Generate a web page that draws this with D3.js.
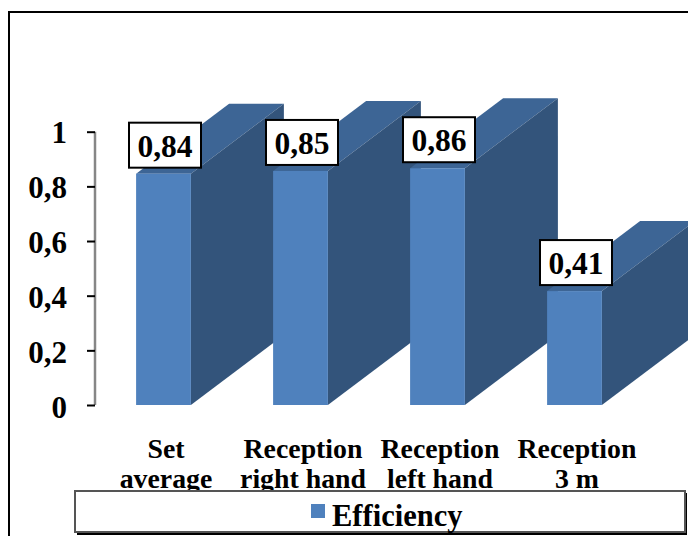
<!DOCTYPE html>
<html>
<head>
<meta charset="utf-8">
<script src="https://cdn.jsdelivr.net/npm/d3@7"></script>
<style>
  html, body { margin: 0; padding: 0; background: #fff; overflow: hidden; }
  svg { display: block; }
  text { font-family: "Liberation Serif", serif; font-weight: bold; fill: #000; }
</style>
</head>
<body>
<svg id="chart"></svg>
<script>
const categories = [['Set', 'average'], ['Reception', 'right hand'], ['Reception', 'left hand'], ['Reception', '3 m']];
const efficiency = [0.84, 0.85, 0.86, 0.41];
const valueLabels = ['0,84', '0,85', '0,86', '0,41'];
const tickValues = [0, 0.2, 0.4, 0.6, 0.8, 1];
const tickLabels = ['0', '0,2', '0,4', '0,6', '0,8', '1'];
const seriesName = 'Efficiency';

const width = 688, height = 536;
const depthX = 93, depthY = -70;

const svg = d3.select('#chart')
    .attr('width', width)
    .attr('height', height);

// outer frame runs off the right and bottom of the picture
svg.append('rect')
    .attr('x', 9)
    .attr('y', 12)
    .attr('width', 720)
    .attr('height', 560)
    .attr('fill', '#fff')
    .attr('stroke', '#000')
    .attr('stroke-width', 2);

const xscale = d3.scaleBand()
    .domain(d3.range(categories.length))
    .range([95, 643])
    .paddingInner(0.6)
    .paddingOuter(0.3);

const yscale = d3.scaleLinear().domain([0, 1]).range([405, 131.7]);
// bar tops sit slightly above the axis scale, tick text slightly below it
const ytop = d3.scaleLinear().domain([0, 1]).range([403, 130]);
const ylabel = d3.scaleLinear().domain([0, 1]).range([408, 132.5]);

const bars = svg.selectAll('.bar')
    .data(efficiency)
    .join('g')
    .attr('class', 'bar');

bars.each(function (d, i) {
    const g = d3.select(this);
    const x0 = xscale(i), x1 = x0 + xscale.bandwidth();
    const top = ytop(d), base = yscale(0);

    g.append('path')
        .attr('d', `M${x0},${top}L${x1},${top}L${x1 + depthX},${top + depthY}L${x0 + depthX},${top + depthY}Z`)
        .attr('fill', '#3d6595');

    g.append('path')
        .attr('d', `M${x1},${top}L${x1 + depthX},${top + depthY}L${x1 + depthX},${base + depthY}L${x1},${base}Z`)
        .attr('fill', '#33547b');

    g.append('rect')
        .attr('x', x0)
        .attr('y', top)
        .attr('width', xscale.bandwidth())
        .attr('height', base - top)
        .attr('fill', '#4f81bd');
});

// y axis
const yaxis = d3.axisLeft(yscale)
    .tickValues(tickValues)
    .tickFormat((d, i) => tickLabels[i])
    .tickSize(8)
    .tickPadding(20);

const yaxisGroup = svg.append('g')
    .attr('transform', 'translate(95, 0)')
    .call(yaxis);

yaxisGroup.select('.domain')
    .attr('d', `M0,${yscale(1)}V${yscale(0)}`)
    .attr('stroke', '#868686')
    .attr('stroke-width', 2.5);

yaxisGroup.selectAll('.tick line')
    .attr('stroke', '#000')
    .attr('stroke-width', 2);

yaxisGroup.selectAll('.tick text')
    .attr('y', d => ylabel(d) - yscale(d))
    .style('font-size', '31px')
    .style('font-family', '"Liberation Serif", serif');

// category labels, the legend box cuts off the second line
const xaxisGroup = svg.append('g');
xaxisGroup.selectAll('text')
    .data(categories)
    .join('text')
    .attr('text-anchor', 'middle')
    .style('font-size', '27.8px')
    .each(function (lines, i) {
        const cx = xscale(i) + xscale.bandwidth() / 2 + 2.5;
        d3.select(this).selectAll('tspan')
            .data(lines)
            .join('tspan')
            .attr('x', cx)
            .attr('y', (l, j) => 458 + j * 30)
            .text(l => l);
    });

// value labels
const labels = svg.selectAll('.value')
    .data(efficiency)
    .join('g')
    .attr('class', 'value')
    .attr('transform', (d, i) => `translate(${xscale(i) + xscale.bandwidth() / 2 + 1.5}, ${ytop(d) - 6})`);

labels.append('rect')
    .attr('x', -36)
    .attr('y', -45)
    .attr('width', 72)
    .attr('height', 45)
    .attr('fill', '#fff')
    .attr('stroke', '#000')
    .attr('stroke-width', 2);

labels.append('text')
    .attr('text-anchor', 'middle')
    .attr('y', -11)
    .style('font-size', '31.5px')
    .text((d, i) => valueLabels[i]);

// legend
const legend = svg.append('g');

legend.append('rect')
    .attr('x', 77)
    .attr('y', 493)
    .attr('width', 610)
    .attr('height', 42)
    .attr('fill', '#000');

legend.append('rect')
    .attr('x', 75)
    .attr('y', 491)
    .attr('width', 610)
    .attr('height', 41)
    .attr('fill', '#fff')
    .attr('stroke', '#555')
    .attr('stroke-width', 2);

legend.append('rect')
    .attr('x', 311)
    .attr('y', 504)
    .attr('width', 14)
    .attr('height', 14)
    .attr('fill', '#4f81bd');

legend.append('text')
    .attr('x', 332)
    .attr('y', 526)
    .style('font-size', '30.5px')
    .text(seriesName);
</script>
</body>
</html>
